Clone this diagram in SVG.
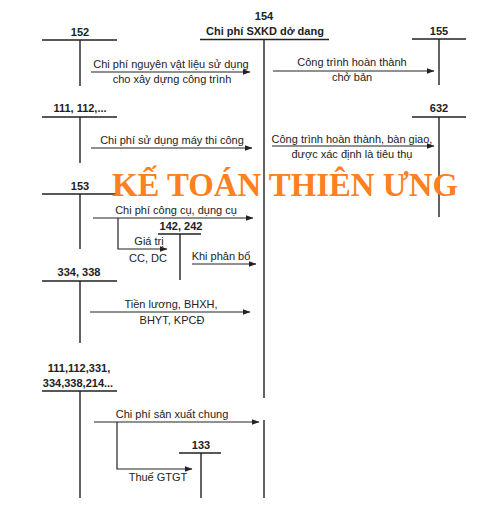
<svg xmlns="http://www.w3.org/2000/svg" width="487" height="505" viewBox="0 0 487 505">
<defs>
<marker id="ah" viewBox="0 0 8 6" refX="7.5" refY="3" markerWidth="8" markerHeight="6" markerUnits="userSpaceOnUse" orient="auto">
<path d="M0,0 L8,3 L0,6 z" fill="#222"/>
</marker>
<style>
.ln{stroke:#222;stroke-width:1.4;fill:none}
.ar{stroke:#222;stroke-width:1.2;fill:none;marker-end:url(#ah)}
.t{font-family:"Liberation Sans",Arial,sans-serif;font-size:11px;fill:#222;text-anchor:middle}
.b{font-family:"Liberation Sans",Arial,sans-serif;font-size:11px;font-weight:bold;fill:#222;text-anchor:middle}
.wm{font-family:"Liberation Serif","Times New Roman",serif;font-size:33px;font-weight:bold;fill:#FF8020}
</style>
</defs>
<rect width="487" height="505" fill="#fff"/>

<g id="acc154">
<text class="b" x="264" y="20">154</text>
<text class="b" x="265" y="35">Chi phí SXKD dở dang</text>
<path class="ln" d="M200,39.5 H329 M264,39.5 V398 M264,420 V498"/>
</g>
<g id="acc152">
<text class="b" x="80" y="36">152</text>
<path class="ln" d="M42,40 H117 M80,40 V86"/>
</g>
<g id="acc111">
<text class="b" x="80" y="112">111, 112,...</text>
<path class="ln" d="M42,117 H117 M80,117 V163"/>
</g>
<g id="acc155">
<text class="b" x="439" y="35">155</text>
<path class="ln" d="M412,39 H466 M439,39 V85"/>
</g>
<g id="acc632">
<text class="b" x="439" y="112">632</text>
<path class="ln" d="M412,117 H466 M439,117 V217"/>
</g>
<g id="acc153">
<text class="b" x="80" y="190">153</text>
<path class="ln" d="M42,194 H117 M80,194 V249"/>
</g>
<g id="acc142">
<text class="b" x="181" y="230">142, 242</text>
<path class="ln" d="M158,234 H201 M180,234 V280"/>
</g>
<g id="acc334">
<text class="b" x="79" y="276">334, 338</text>
<path class="ln" d="M42,281 H117 M80,281 V343"/>
</g>
<g id="acc111b">
<text class="b" x="79" y="372">111,112,331,</text>
<text class="b" x="78" y="387">334,338,214...</text>
<path class="ln" d="M42,391 H117 M80,391 V498"/>
</g>
<g id="acc133">
<text class="b" x="201" y="449">133</text>
<path class="ln" d="M179,453 H221 M201,453 V498"/>
</g>

<g id="connectors">
<path class="ar" d="M91,72 H250"/>
<path class="ar" d="M91,148 H252"/>
<path class="ar" d="M273,71 H434"/>
<path class="ar" d="M272,146 H434"/>
<path class="ar" d="M93,218 H253"/>
<path class="ar" d="M118,218 V249 H167"/>
<path class="ar" d="M192,264 H256"/>
<path class="ar" d="M90,312 H250"/>
<path class="ar" d="M94,422 H259"/>
<path class="ar" d="M117,422 V469 H192"/>
</g>

<g id="labels">
<text class="t" x="171" y="68">Chi phí nguyên vật liệu sử dụng</text>
<text class="t" x="172" y="83">cho xây dựng công trình</text>
<text class="t" x="172" y="144">Chi phí sử dụng máy thi công</text>
<text class="t" x="352" y="66">Công trình hoàn thành</text>
<text class="t" x="352" y="81">chở bản</text>
<text class="t" x="352" y="143">Công trình hoàn thành, bàn giao,</text>
<text class="t" x="352" y="158">được xác định là tiêu thụ</text>
<text class="t" x="176" y="214">Chi phí công cụ, dụng cụ</text>
<text class="t" x="149" y="245">Giá trị</text>
<text class="t" x="148" y="262">CC, DC</text>
<text class="t" x="221" y="260">Khi phân bổ</text>
<text class="t" x="171" y="308">Tiền lương, BHXH,</text>
<text class="t" x="172" y="324">BHYT, KPCĐ</text>
<text class="t" x="172" y="418">Chi phí sản xuất chung</text>
<text class="t" x="158" y="481">Thuế GTGT</text>
</g>

<text class="wm" x="112" y="196" textLength="346" lengthAdjust="spacingAndGlyphs">KẾ TOÁN THIÊN ƯNG</text>
</svg>
